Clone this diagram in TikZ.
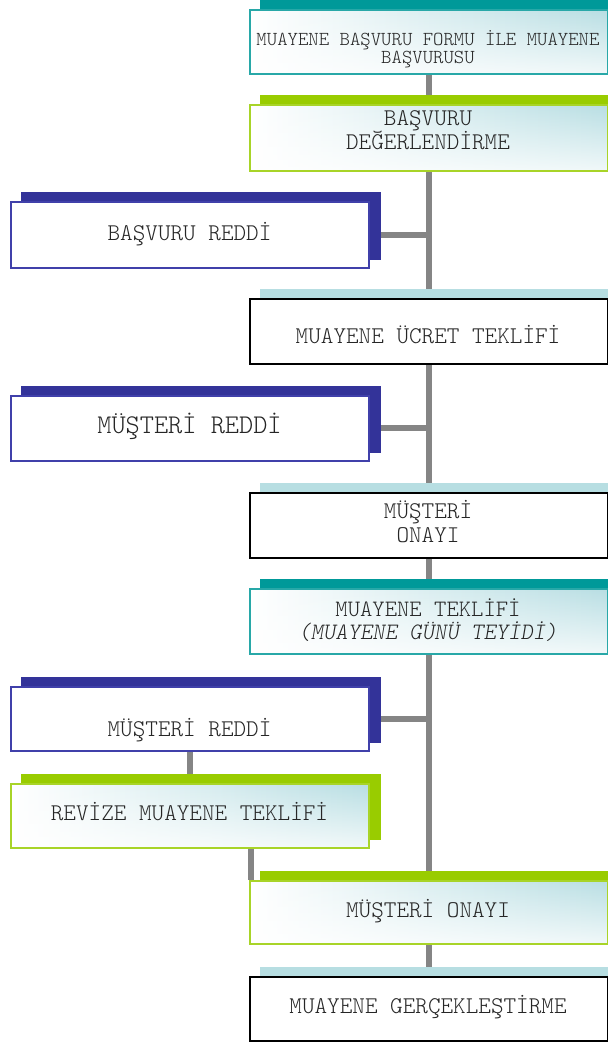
\documentclass[tikz,border=0pt]{standalone}
\usepackage{fontspec}
\newfontfamily\lmlight{Latin Modern Mono Light}
\usetikzlibrary{fadings}
\definecolor{tealc}{RGB}{0,153,153}
\definecolor{tealb}{RGB}{40,168,168}
\definecolor{greenc}{RGB}{153,204,0}
\definecolor{greenb}{RGB}{168,212,40}
\definecolor{bluec}{RGB}{51,51,153}
\definecolor{blueb}{RGB}{64,64,170}
\definecolor{lblue}{RGB}{183,222,226}
\definecolor{linec}{RGB}{133,133,133}
\definecolor{gradc}{RGB}{184,222,227}
\pgfdeclarelayer{lines}
\pgfdeclarelayer{shadows}
\pgfsetlayers{lines,shadows,main}
\tikzset{
  box/.style={rectangle, minimum width=358pt, inner sep=0pt, anchor=north west, line width=1.6pt},
  gradbox/.style={box, fill=white, path picture={
      \shade[left color=white, right color=gradc]
        (path picture bounding box.south west) rectangle (path picture bounding box.north east);
      \fill[white, path fading=north, fill opacity=0.8]
        (path picture bounding box.south west) rectangle (path picture bounding box.north east);}},
  tealbox/.style={gradbox, draw=tealb},
  greenbox/.style={gradbox, draw=greenb},
  bluebox/.style={box, fill=white, draw=blueb},
  blackbox/.style={box, fill=white, draw=black},
  txt/.style={anchor=base, align=center, inner sep=0pt, text=black!85, font=\lmlight\fontsize{24}{24}\selectfont},
  conn/.style={draw=linec, line width=6pt},
  shad/.style={fill=#1, draw=none},
}
\newcommand{\shadowof}[2]{\fill[shad=#2] ([xshift=11pt,yshift=9pt]#1.south west) rectangle ([xshift=11pt,yshift=9pt]#1.north east);}
\begin{document}
\begin{tikzpicture}[x=1pt,y=-1pt]
\useasboundingbox (0,0) rectangle (608,1042);
% boxes
\node[tealbox,  minimum height=64pt] (b1) at (249,9) {};
\node[greenbox, minimum height=66pt] (b2) at (249,104) {};
\node[bluebox,  minimum height=66pt] (r1) at (10,201) {};
\node[blackbox, minimum height=65pt] (b3) at (249,298) {};
\node[bluebox,  minimum height=65pt] (r2) at (10,395) {};
\node[blackbox, minimum height=65pt] (b4) at (249,492) {};
\node[tealbox,  minimum height=65pt] (b5) at (249,588) {};
\node[bluebox,  minimum height=64pt] (r3) at (10,686) {};
\node[greenbox, minimum height=64pt] (r4) at (10,783) {};
\node[greenbox, minimum height=63pt] (b6) at (249,880) {};
\node[blackbox, minimum height=64pt] (b7) at (249,976) {};
% texts (anchor base = baseline of last line)
\node[txt, font=\lmlight\fontsize{19.8}{16.5}\selectfont] (t1) at (428,63) {MUAYENE BAŞVURU FORMU İLE MUAYENE\\BAŞVURUSU};
\node[txt] (t2) at (428,149) {BAŞVURU\\DEĞERLENDİRME};
\node[txt] (t3) at (189.5,240) {BAŞVURU REDDİ};
\node[txt] (t4) at (428,343) {MUAYENE ÜCRET TEKLİFİ};
\node[txt, font=\lmlight\fontsize{27}{27}\selectfont] (t5) at (189.5,433) {MÜŞTERİ REDDİ};
\node[txt] (t6) at (428,542) {MÜŞTERİ\\ONAYI};
\node[txt, font=\lmlight\fontsize{23.5}{23}\selectfont] (t7) at (428,639) {MUAYENE TEKLİFİ\\\textit{(MUAYENE GÜNÜ TEYİDİ)}};
\node[txt] (t8) at (189.5,736) {MÜŞTERİ REDDİ};
\node[txt] (t9) at (189.5,820) {REVİZE MUAYENE TEKLİFİ};
\node[txt] (t10) at (428,917) {MÜŞTERİ ONAYI};
\node[txt] (t11) at (428,1013) {MUAYENE GERÇEKLEŞTİRME};
% shadows
\begin{pgfonlayer}{shadows}
\shadowof{b1}{tealc}
\shadowof{b2}{greenc}
\shadowof{r1}{bluec}
\shadowof{b3}{lblue}
\shadowof{r2}{bluec}
\shadowof{b4}{lblue}
\shadowof{b5}{tealc}
\shadowof{r3}{bluec}
\shadowof{r4}{greenc}
\shadowof{b6}{greenc}
\shadowof{b7}{lblue}
\end{pgfonlayer}
% connectors
\begin{pgfonlayer}{lines}
\draw[conn] (b1.south) -- (b7.north);
\draw[conn] (r1.east) -- (r1.east -| b1.south);
\draw[conn] (r2.east) -- (r2.east -| b1.south);
\draw[conn] (r3.east) -- (r3.east -| b1.south);
\draw[conn] (r3.south) -- (r4.north);
\draw[conn] ([xshift=1.5pt]r4.south -| b6.west) -- ([xshift=1.5pt]b6.north west);
\end{pgfonlayer}
\end{tikzpicture}
\end{document}
